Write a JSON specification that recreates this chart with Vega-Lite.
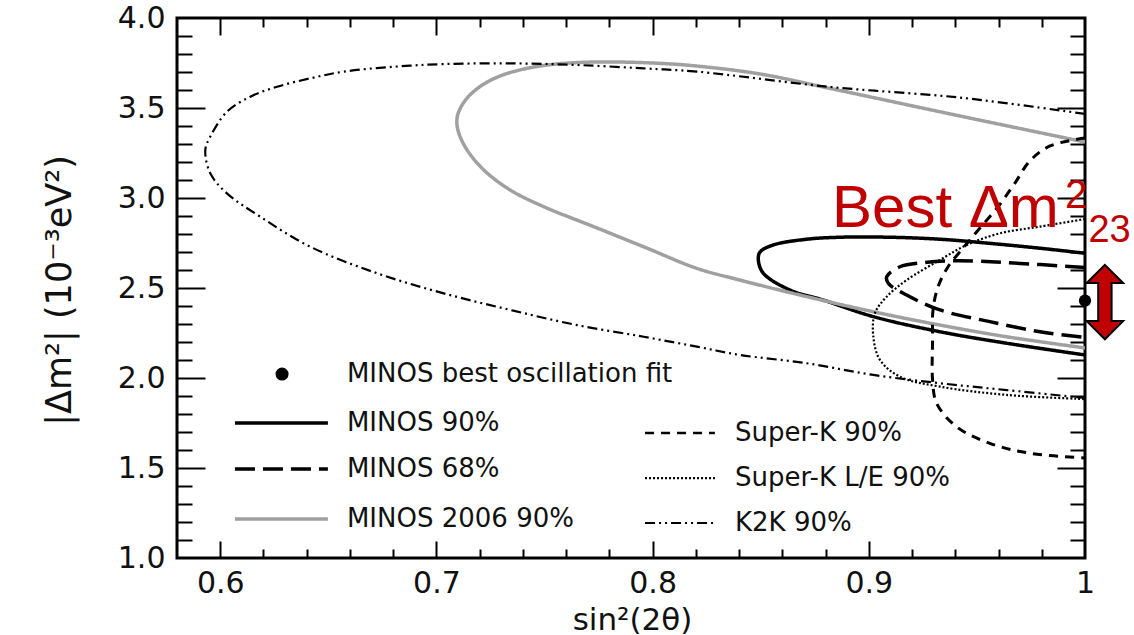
{
"$schema":"https://vega.github.io/schema/vega-lite/v6.json",
"width":908,"height":540,
"autosize":{"type":"none"},
"padding":{"left":177,"top":18,"right":49,"bottom":77},
"background":"white",
"config":{
 "view":{"stroke":"#000","strokeWidth":3},
 "legend":{"disable":true},
 "axis":{"domain":false,"grid":false,"tickColor":"#000","tickWidth":2,"labelFont":"DejaVu Sans","labelColor":"#111","labelFontSize":30,"titleFont":"DejaVu Sans","titleColor":"#111","titleFontWeight":"normal","labelOverlap":false,"labelFlush":false}
},
"resolve":{"axis":{"x":"independent","y":"independent"}},
"datasets":{
"one":[{}],
"contours":[
{"series":"MINOS 90%","k":1,"sin2":1.0,"dm2":2.693},
{"series":"MINOS 90%","k":2,"sin2":0.9792,"dm2":2.721},
{"series":"MINOS 90%","k":3,"sin2":0.956,"dm2":2.748},
{"series":"MINOS 90%","k":4,"sin2":0.9329,"dm2":2.771},
{"series":"MINOS 90%","k":5,"sin2":0.9098,"dm2":2.782},
{"series":"MINOS 90%","k":6,"sin2":0.8867,"dm2":2.782},
{"series":"MINOS 90%","k":7,"sin2":0.8713,"dm2":2.771},
{"series":"MINOS 90%","k":8,"sin2":0.8558,"dm2":2.739},
{"series":"MINOS 90%","k":9,"sin2":0.8497,"dm2":2.7},
{"series":"MINOS 90%","k":10,"sin2":0.8489,"dm2":2.656},
{"series":"MINOS 90%","k":11,"sin2":0.8512,"dm2":2.582},
{"series":"MINOS 90%","k":12,"sin2":0.8635,"dm2":2.489},
{"series":"MINOS 90%","k":13,"sin2":0.8789,"dm2":2.433},
{"series":"MINOS 90%","k":14,"sin2":0.9021,"dm2":2.341},
{"series":"MINOS 90%","k":15,"sin2":0.9329,"dm2":2.257},
{"series":"MINOS 90%","k":16,"sin2":0.9638,"dm2":2.193},
{"series":"MINOS 90%","k":17,"sin2":1.0,"dm2":2.128},
{"series":"MINOS 68%","k":1,"sin2":1.0,"dm2":2.614},
{"series":"MINOS 68%","k":2,"sin2":0.9638,"dm2":2.641},
{"series":"MINOS 68%","k":3,"sin2":0.9406,"dm2":2.652},
{"series":"MINOS 68%","k":4,"sin2":0.9252,"dm2":2.641},
{"series":"MINOS 68%","k":5,"sin2":0.9144,"dm2":2.618},
{"series":"MINOS 68%","k":6,"sin2":0.9083,"dm2":2.563},
{"series":"MINOS 68%","k":7,"sin2":0.909,"dm2":2.526},
{"series":"MINOS 68%","k":8,"sin2":0.9175,"dm2":2.461},
{"series":"MINOS 68%","k":9,"sin2":0.9329,"dm2":2.378},
{"series":"MINOS 68%","k":10,"sin2":0.956,"dm2":2.313},
{"series":"MINOS 68%","k":11,"sin2":0.9792,"dm2":2.257},
{"series":"MINOS 68%","k":12,"sin2":1.0,"dm2":2.225},
{"series":"MINOS 2006 90%","k":1,"sin2":1.0,"dm2":3.311},
{"series":"MINOS 2006 90%","k":2,"sin2":0.9436,"dm2":3.452},
{"series":"MINOS 2006 90%","k":3,"sin2":0.882,"dm2":3.609},
{"series":"MINOS 2006 90%","k":4,"sin2":0.8497,"dm2":3.689},
{"series":"MINOS 2006 90%","k":5,"sin2":0.8205,"dm2":3.733},
{"series":"MINOS 2006 90%","k":6,"sin2":0.8035,"dm2":3.748},
{"series":"MINOS 2006 90%","k":7,"sin2":0.7804,"dm2":3.756},
{"series":"MINOS 2006 90%","k":8,"sin2":0.7665,"dm2":3.753},
{"series":"MINOS 2006 90%","k":9,"sin2":0.7535,"dm2":3.742},
{"series":"MINOS 2006 90%","k":10,"sin2":0.741,"dm2":3.718},
{"series":"MINOS 2006 90%","k":11,"sin2":0.7295,"dm2":3.678},
{"series":"MINOS 2006 90%","k":12,"sin2":0.7205,"dm2":3.622},
{"series":"MINOS 2006 90%","k":13,"sin2":0.7135,"dm2":3.545},
{"series":"MINOS 2006 90%","k":14,"sin2":0.7098,"dm2":3.46},
{"series":"MINOS 2006 90%","k":15,"sin2":0.7098,"dm2":3.385},
{"series":"MINOS 2006 90%","k":16,"sin2":0.7135,"dm2":3.28},
{"series":"MINOS 2006 90%","k":17,"sin2":0.7219,"dm2":3.156},
{"series":"MINOS 2006 90%","k":18,"sin2":0.7342,"dm2":3.044},
{"series":"MINOS 2006 90%","k":19,"sin2":0.7496,"dm2":2.952},
{"series":"MINOS 2006 90%","k":20,"sin2":0.7727,"dm2":2.841},
{"series":"MINOS 2006 90%","k":21,"sin2":0.7959,"dm2":2.729},
{"series":"MINOS 2006 90%","k":22,"sin2":0.8205,"dm2":2.609},
{"series":"MINOS 2006 90%","k":23,"sin2":0.8404,"dm2":2.544},
{"series":"MINOS 2006 90%","k":24,"sin2":0.8713,"dm2":2.452},
{"series":"MINOS 2006 90%","k":25,"sin2":0.9021,"dm2":2.368},
{"series":"MINOS 2006 90%","k":26,"sin2":0.9329,"dm2":2.294},
{"series":"MINOS 2006 90%","k":27,"sin2":0.9638,"dm2":2.229},
{"series":"MINOS 2006 90%","k":28,"sin2":1.0,"dm2":2.167},
{"series":"Super-K 90%","k":1,"sin2":1.0,"dm2":3.333},
{"series":"Super-K 90%","k":2,"sin2":0.9838,"dm2":3.289},
{"series":"Super-K 90%","k":3,"sin2":0.9745,"dm2":3.206},
{"series":"Super-K 90%","k":4,"sin2":0.9676,"dm2":3.083},
{"series":"Super-K 90%","k":5,"sin2":0.9597,"dm2":2.95},
{"series":"Super-K 90%","k":6,"sin2":0.9514,"dm2":2.833},
{"series":"Super-K 90%","k":7,"sin2":0.9436,"dm2":2.722},
{"series":"Super-K 90%","k":8,"sin2":0.9366,"dm2":2.617},
{"series":"Super-K 90%","k":9,"sin2":0.932,"dm2":2.506},
{"series":"Super-K 90%","k":10,"sin2":0.9297,"dm2":2.378},
{"series":"Super-K 90%","k":11,"sin2":0.9295,"dm2":2.211},
{"series":"Super-K 90%","k":12,"sin2":0.9295,"dm2":1.989},
{"series":"Super-K 90%","k":13,"sin2":0.9314,"dm2":1.859},
{"series":"Super-K 90%","k":14,"sin2":0.9406,"dm2":1.729},
{"series":"Super-K 90%","k":15,"sin2":0.956,"dm2":1.637},
{"series":"Super-K 90%","k":16,"sin2":0.9745,"dm2":1.582},
{"series":"Super-K 90%","k":17,"sin2":1.0,"dm2":1.556},
{"series":"Super-K L/E 90%","k":1,"sin2":1.0,"dm2":2.883},
{"series":"Super-K L/E 90%","k":2,"sin2":0.9792,"dm2":2.841},
{"series":"Super-K L/E 90%","k":3,"sin2":0.9607,"dm2":2.804},
{"series":"Super-K L/E 90%","k":4,"sin2":0.9453,"dm2":2.739},
{"series":"Super-K L/E 90%","k":5,"sin2":0.9329,"dm2":2.656},
{"series":"Super-K L/E 90%","k":6,"sin2":0.9175,"dm2":2.544},
{"series":"Super-K L/E 90%","k":7,"sin2":0.9083,"dm2":2.452},
{"series":"Super-K L/E 90%","k":8,"sin2":0.9028,"dm2":2.359},
{"series":"Super-K L/E 90%","k":9,"sin2":0.9021,"dm2":2.229},
{"series":"Super-K L/E 90%","k":10,"sin2":0.9052,"dm2":2.1},
{"series":"Super-K L/E 90%","k":11,"sin2":0.9144,"dm2":2.007},
{"series":"Super-K L/E 90%","k":12,"sin2":0.9329,"dm2":1.952},
{"series":"Super-K L/E 90%","k":13,"sin2":0.9638,"dm2":1.906},
{"series":"Super-K L/E 90%","k":14,"sin2":1.0,"dm2":1.883},
{"series":"K2K 90%","k":1,"sin2":1.0,"dm2":3.467},
{"series":"K2K 90%","k":2,"sin2":0.9436,"dm2":3.556},
{"series":"K2K 90%","k":3,"sin2":0.882,"dm2":3.617},
{"series":"K2K 90%","k":4,"sin2":0.8205,"dm2":3.702},
{"series":"K2K 90%","k":5,"sin2":0.7959,"dm2":3.72},
{"series":"K2K 90%","k":6,"sin2":0.765,"dm2":3.739},
{"series":"K2K 90%","k":7,"sin2":0.7342,"dm2":3.748},
{"series":"K2K 90%","k":8,"sin2":0.7034,"dm2":3.744},
{"series":"K2K 90%","k":9,"sin2":0.6802,"dm2":3.729},
{"series":"K2K 90%","k":10,"sin2":0.6571,"dm2":3.702},
{"series":"K2K 90%","k":11,"sin2":0.6417,"dm2":3.665},
{"series":"K2K 90%","k":12,"sin2":0.6263,"dm2":3.618},
{"series":"K2K 90%","k":13,"sin2":0.6139,"dm2":3.563},
{"series":"K2K 90%","k":14,"sin2":0.6031,"dm2":3.479},
{"series":"K2K 90%","k":15,"sin2":0.5954,"dm2":3.341},
{"series":"K2K 90%","k":16,"sin2":0.5931,"dm2":3.267},
{"series":"K2K 90%","k":17,"sin2":0.5954,"dm2":3.137},
{"series":"K2K 90%","k":18,"sin2":0.6031,"dm2":3.026},
{"series":"K2K 90%","k":19,"sin2":0.6185,"dm2":2.896},
{"series":"K2K 90%","k":20,"sin2":0.6417,"dm2":2.729},
{"series":"K2K 90%","k":21,"sin2":0.6725,"dm2":2.582},
{"series":"K2K 90%","k":22,"sin2":0.7034,"dm2":2.47},
{"series":"K2K 90%","k":23,"sin2":0.7342,"dm2":2.378},
{"series":"K2K 90%","k":24,"sin2":0.765,"dm2":2.294},
{"series":"K2K 90%","k":25,"sin2":0.7959,"dm2":2.229},
{"series":"K2K 90%","k":26,"sin2":0.8205,"dm2":2.174},
{"series":"K2K 90%","k":27,"sin2":0.8404,"dm2":2.128},
{"series":"K2K 90%","k":28,"sin2":0.8713,"dm2":2.082},
{"series":"K2K 90%","k":29,"sin2":0.9021,"dm2":2.017},
{"series":"K2K 90%","k":30,"sin2":0.9329,"dm2":1.971},
{"series":"K2K 90%","k":31,"sin2":0.9638,"dm2":1.933},
{"series":"K2K 90%","k":32,"sin2":1.0,"dm2":1.889}
],
"best":[{"series":"MINOS best oscillation fit","sin2":1.0,"dm2":2.43}]
},
"layer":[
{"data":{"name":"contours"},"transform":[{"filter":"indexof(datum.series,'MINOS')===0"}],
 "mark":{"type":"line","clip":true,"strokeWidth":3.5,"interpolate":"catmull-rom","strokeCap":"butt"},
 "encoding":{
  "x":{"field":"sin2","type":"quantitative","scale":{"domain":[0.58,1],"nice":false,"zero":false},
       "axis":{"orient":"bottom","values":[0.6,0.7,0.8,0.9,1],"format":"~g","ticks":false,"labelPadding":10,"title":"sin²(2θ)","titleFontSize":31,"titleX":455,"titleY":62,"titleBaseline":"middle","titleAlign":"center"}},
  "y":{"field":"dm2","type":"quantitative","scale":{"domain":[1,4],"nice":false,"zero":false},
       "axis":{"orient":"left","values":[1,1.5,2,2.5,3,3.5,4],"format":".1f","ticks":false,"labelPadding":12,"title":"|Δm²| (10⁻³eV²)","titleFontSize":35,"titleX":-118,"titleY":272,"titleAngle":-90,"titleBaseline":"middle","titleAlign":"center"}},
  "order":{"field":"k","type":"quantitative"},
  "color":{"field":"series","type":"nominal","scale":{"domain":["MINOS 90%","MINOS 68%","MINOS 2006 90%","Super-K 90%","Super-K L/E 90%","K2K 90%"],"range":["#000000","#000000","#a0a0a0","#000000","#000000","#000000"]}},
  "strokeDash":{"field":"series","type":"nominal","scale":{"domain":["MINOS 90%","MINOS 68%","MINOS 2006 90%","Super-K 90%","Super-K L/E 90%","K2K 90%"],"range":[[1,0],[20,8],[1,0],[9,7],[2,2],[10,4,2,4,2,4]]}}
 }},
{"data":{"name":"contours"},"transform":[{"filter":"datum.series==='Super-K 90%'"}],
 "mark":{"type":"line","clip":true,"strokeWidth":3,"interpolate":"catmull-rom","strokeCap":"butt"},
 "encoding":{
  "x":{"field":"sin2","type":"quantitative","scale":{"domain":[0.58,1],"nice":false,"zero":false},
       "axis":{"orient":"bottom","values":[0.6,0.7,0.8,0.9],"labels":false,"tickSize":-17,"title":null}},
  "y":{"field":"dm2","type":"quantitative","scale":{"domain":[1,4],"nice":false,"zero":false},
       "axis":{"orient":"left","values":[1.5,2,2.5,3,3.5],"labels":false,"tickSize":-28,"title":null}},
  "order":{"field":"k","type":"quantitative"},
  "color":{"field":"series","type":"nominal","scale":{"domain":["MINOS 90%","MINOS 68%","MINOS 2006 90%","Super-K 90%","Super-K L/E 90%","K2K 90%"],"range":["#000000","#000000","#a0a0a0","#000000","#000000","#000000"]}},
  "strokeDash":{"field":"series","type":"nominal","scale":{"domain":["MINOS 90%","MINOS 68%","MINOS 2006 90%","Super-K 90%","Super-K L/E 90%","K2K 90%"],"range":[[1,0],[20,8],[1,0],[9,7],[2,2],[10,4,2,4,2,4]]}}
 }},
{"data":{"name":"contours"},"transform":[{"filter":"datum.series==='Super-K L/E 90%' || datum.series==='K2K 90%'"}],
 "mark":{"type":"line","clip":true,"strokeWidth":2.2,"interpolate":"catmull-rom","strokeCap":"butt"},
 "encoding":{
  "x":{"field":"sin2","type":"quantitative","scale":{"domain":[0.58,1],"nice":false,"zero":false},
       "axis":{"orient":"bottom","values":[0.62,0.64,0.66,0.68,0.72,0.74,0.76,0.78,0.82,0.84,0.86,0.88,0.92,0.94,0.96,0.98],"labels":false,"tickSize":-9,"title":null}},
  "y":{"field":"dm2","type":"quantitative","scale":{"domain":[1,4],"nice":false,"zero":false},
       "axis":{"orient":"left","values":[1.1,1.2,1.3,1.4,1.6,1.7,1.8,1.9,2.1,2.2,2.3,2.4,2.6,2.7,2.8,2.9,3.1,3.2,3.3,3.4,3.6,3.7,3.8,3.9],"labels":false,"tickSize":-15,"title":null}},
  "order":{"field":"k","type":"quantitative"},
  "color":{"field":"series","type":"nominal","scale":{"domain":["MINOS 90%","MINOS 68%","MINOS 2006 90%","Super-K 90%","Super-K L/E 90%","K2K 90%"],"range":["#000000","#000000","#a0a0a0","#000000","#000000","#000000"]}},
  "strokeDash":{"field":"series","type":"nominal","scale":{"domain":["MINOS 90%","MINOS 68%","MINOS 2006 90%","Super-K 90%","Super-K L/E 90%","K2K 90%"],"range":[[1,0],[20,8],[1,0],[9,7],[2,2],[10,4,2,4,2,4]]}}
 }},
{"data":{"name":"best"},
 "mark":{"type":"point","shape":"circle","filled":true,"size":150,"color":"#000","opacity":1},
 "encoding":{
  "x":{"field":"sin2","type":"quantitative","scale":{"domain":[0.58,1],"nice":false,"zero":false},
       "axis":{"orient":"top","values":[0.6,0.7,0.8,0.9],"labels":false,"tickSize":-17,"title":null}},
  "y":{"field":"dm2","type":"quantitative","scale":{"domain":[1,4],"nice":false,"zero":false},
       "axis":{"orient":"right","values":[1.5,2,2.5,3,3.5],"labels":false,"tickSize":-28,"title":null}}
 }},
{"data":{"name":"one"},
 "mark":{"type":"point","shape":"circle","filled":true,"size":170,"color":"#000","opacity":1},
 "encoding":{
  "x":{"datum":0.6286,"type":"quantitative","scale":{"domain":[0.58,1],"nice":false,"zero":false},
       "axis":{"orient":"top","values":[0.62,0.64,0.66,0.68,0.72,0.74,0.76,0.78,0.82,0.84,0.86,0.88,0.92,0.94,0.96,0.98],"labels":false,"tickSize":-9,"title":null}},
  "y":{"datum":2.022,"type":"quantitative","scale":{"domain":[1,4],"nice":false,"zero":false},
       "axis":{"orient":"right","values":[1.1,1.2,1.3,1.4,1.6,1.7,1.8,1.9,2.1,2.2,2.3,2.4,2.6,2.7,2.8,2.9,3.1,3.2,3.3,3.4,3.6,3.7,3.8,3.9],"labels":false,"tickSize":-15,"title":null}}
 }},
{"data":{"name":"one"},"mark":{"type":"rule","stroke":"#000","strokeWidth":3.5,"strokeCap":"butt"},
 "encoding":{"x":{"datum":0.6068,"type":"quantitative","axis":null},"x2":{"datum":0.6498},"y":{"datum":1.75,"type":"quantitative","axis":null}}},
{"data":{"name":"one"},"mark":{"type":"rule","stroke":"#000","strokeWidth":3.5,"strokeCap":"butt","strokeDash":[20,8]},
 "encoding":{"x":{"datum":0.6068,"type":"quantitative","axis":null},"x2":{"datum":0.6498},"y":{"datum":1.494,"type":"quantitative","axis":null}}},
{"data":{"name":"one"},"mark":{"type":"rule","stroke":"#a0a0a0","strokeWidth":3.5,"strokeCap":"butt"},
 "encoding":{"x":{"datum":0.6068,"type":"quantitative","axis":null},"x2":{"datum":0.6498},"y":{"datum":1.217,"type":"quantitative","axis":null}}},
{"data":{"name":"one"},"mark":{"type":"rule","stroke":"#000","strokeWidth":2.5,"strokeCap":"butt","strokeDash":[9,7]},
 "encoding":{"x":{"datum":0.7965,"type":"quantitative","axis":null},"x2":{"datum":0.8288},"y":{"datum":1.694,"type":"quantitative","axis":null}}},
{"data":{"name":"one"},"mark":{"type":"rule","stroke":"#000","strokeWidth":2.2,"strokeCap":"butt","strokeDash":[2,2]},
 "encoding":{"x":{"datum":0.7965,"type":"quantitative","axis":null},"x2":{"datum":0.8288},"y":{"datum":1.444,"type":"quantitative","axis":null}}},
{"data":{"name":"one"},"mark":{"type":"rule","stroke":"#000","strokeWidth":2,"strokeCap":"butt","strokeDash":[10,4,2,4,2,4]},
 "encoding":{"x":{"datum":0.7965,"type":"quantitative","axis":null},"x2":{"datum":0.8288},"y":{"datum":1.194,"type":"quantitative","axis":null}}},
{"data":{"name":"one"},"mark":{"type":"text","align":"left","baseline":"middle","font":"DejaVu Sans","fontSize":26,"color":"#111","text":"MINOS best oscillation fit"},
 "encoding":{"x":{"datum":0.6586,"type":"quantitative","axis":null},"y":{"datum":2.02,"type":"quantitative","axis":null}}},
{"data":{"name":"one"},"mark":{"type":"text","align":"left","baseline":"middle","font":"DejaVu Sans","fontSize":26,"color":"#111","text":"MINOS 90%"},
 "encoding":{"x":{"datum":0.6586,"type":"quantitative","axis":null},"y":{"datum":1.75,"type":"quantitative","axis":null}}},
{"data":{"name":"one"},"mark":{"type":"text","align":"left","baseline":"middle","font":"DejaVu Sans","fontSize":26,"color":"#111","text":"MINOS 68%"},
 "encoding":{"x":{"datum":0.6586,"type":"quantitative","axis":null},"y":{"datum":1.494,"type":"quantitative","axis":null}}},
{"data":{"name":"one"},"mark":{"type":"text","align":"left","baseline":"middle","font":"DejaVu Sans","fontSize":26,"color":"#111","text":"MINOS 2006 90%"},
 "encoding":{"x":{"datum":0.6586,"type":"quantitative","axis":null},"y":{"datum":1.217,"type":"quantitative","axis":null}}},
{"data":{"name":"one"},"mark":{"type":"text","align":"left","baseline":"middle","font":"DejaVu Sans","fontSize":26,"color":"#111","text":"Super-K 90%"},
 "encoding":{"x":{"datum":0.8381,"type":"quantitative","axis":null},"y":{"datum":1.694,"type":"quantitative","axis":null}}},
{"data":{"name":"one"},"mark":{"type":"text","align":"left","baseline":"middle","font":"DejaVu Sans","fontSize":26,"color":"#111","text":"Super-K L/E 90%"},
 "encoding":{"x":{"datum":0.8381,"type":"quantitative","axis":null},"y":{"datum":1.444,"type":"quantitative","axis":null}}},
{"data":{"name":"one"},"mark":{"type":"text","align":"left","baseline":"middle","font":"DejaVu Sans","fontSize":26,"color":"#111","text":"K2K 90%"},
 "encoding":{"x":{"datum":0.8381,"type":"quantitative","axis":null},"y":{"datum":1.194,"type":"quantitative","axis":null}}},
{"data":{"name":"one"},"mark":{"type":"text","align":"left","baseline":"alphabetic","font":"Liberation Sans","fontSize":60,"color":"#c00000","text":"Best Δm"},
 "encoding":{"x":{"datum":0.883,"type":"quantitative","axis":null},"y":{"datum":2.839,"type":"quantitative","axis":null}}},
{"data":{"name":"one"},"mark":{"type":"text","align":"left","baseline":"alphabetic","font":"Liberation Sans","fontSize":40,"color":"#c00000","text":"2"},
 "encoding":{"x":{"datum":0.9907,"type":"quantitative","axis":null},"y":{"datum":2.944,"type":"quantitative","axis":null}}},
{"data":{"name":"one"},"mark":{"type":"text","align":"left","baseline":"alphabetic","font":"Liberation Sans","fontSize":38,"color":"#c00000","text":"23"},
 "encoding":{"x":{"datum":1.0016,"type":"quantitative","axis":null},"y":{"datum":2.756,"type":"quantitative","axis":null}}},
{"data":{"name":"one"},"mark":{"type":"point","shape":"M0,-1L0.49,-0.51L0.18,-0.51L0.18,0.51L0.49,0.51L0,1L-0.49,0.51L-0.18,0.51L-0.18,-0.51L-0.49,-0.51Z","size":5535,"filled":true,"fill":"#c00000","stroke":"#000","strokeWidth":2,"opacity":1},
 "encoding":{"x":{"datum":1.0092,"type":"quantitative","axis":null},"y":{"datum":2.422,"type":"quantitative","axis":null}}}
]
}
